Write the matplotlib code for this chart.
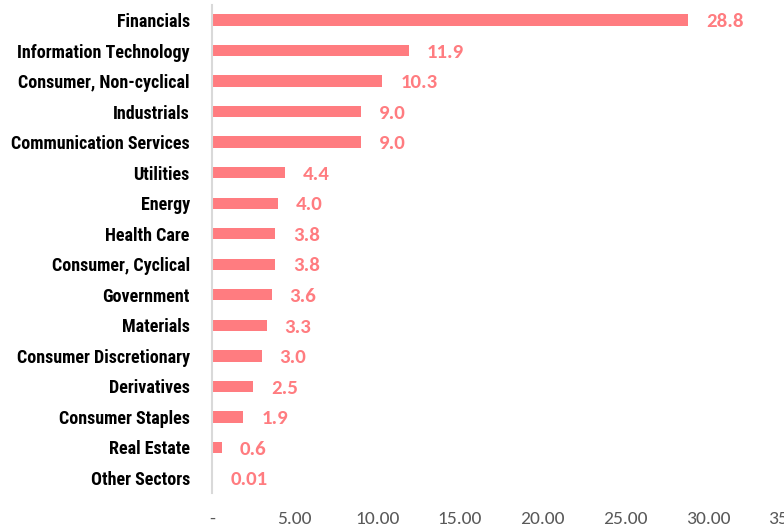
import matplotlib
matplotlib.use("Agg")
import matplotlib.pyplot as plt

categories = ["Financials", "Information Technology", "Consumer, Non-cyclical", "Industrials",
              "Communication Services", "Utilities", "Energy", "Health Care", "Consumer, Cyclical",
              "Government", "Materials", "Consumer Discretionary", "Derivatives", "Consumer Staples",
              "Real Estate", "Other Sectors"]
values = [28.8, 11.9, 10.3, 9.0, 9.0, 4.4, 4.0, 3.8, 3.8, 3.6, 3.3, 3.0, 2.5, 1.9, 0.6, 0.01]
value_labels = ["28.8", "11.9", "10.3", "9.0", "9.0", "4.4", "4.0", "3.8", "3.8", "3.6", "3.3",
                "3.0", "2.5", "1.9", "0.6", "0.01"]
xticks = [0, 5, 10, 15, 20, 25, 30, 35]
xtick_labels = ["-", "5.00", "10.00", "15.00", "20.00", "25.00", "30.00", "35.00"]

bar_color = "#FF7C80"
fig = plt.figure(figsize=(7.84, 5.27), dpi=100)
ax = fig.add_axes([212 / 784, 33.7 / 527, 578.5 / 784, 488.6 / 527])

y = list(range(len(categories)))
ax.barh(y, values, height=0.37, color=bar_color)
for yi, v, lab in zip(y, values, value_labels):
    ax.annotate(lab, (v, yi), xytext=(13, -1.2), textcoords="offset points", va="center", ha="left",
                color=bar_color, fontsize=15, fontweight="bold", family="Carlito")

ax.set_ylim(len(categories) - 0.5, -0.5)
ax.set_xlim(0, 35)
ax.set_yticks(y)
ax.set_yticklabels(categories, family="Roboto Condensed", fontweight="bold", fontsize=13, color="black")
ax.set_xticks(xticks)
ax.set_xticklabels(xtick_labels, family="Carlito", fontsize=14, color="#595959")
ax.tick_params(axis="y", length=0, pad=16)
ax.tick_params(axis="x", length=0, pad=12.5)
for s in ["top", "right", "bottom"]:
    ax.spines[s].set_visible(False)
ax.spines["left"].set_color("#D9D9D9")
ax.spines["left"].set_linewidth(1.5)

fig.savefig("out.png", dpi=100)
